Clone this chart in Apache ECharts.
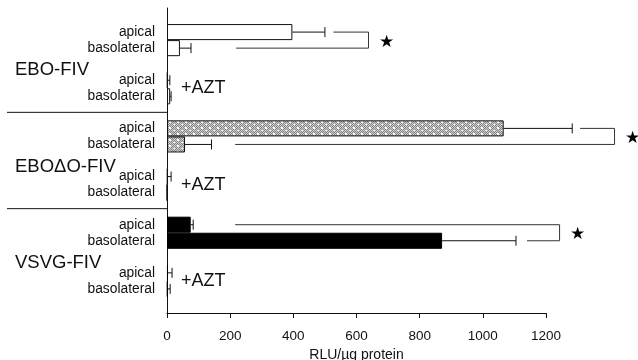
<!DOCTYPE html>
<html>
<head>
<meta charset="utf-8">
<script src="https://cdn.jsdelivr.net/npm/echarts@6/dist/echarts.min.js"></script>
<style>
  html, body { margin: 0; padding: 0; background: #fff; }
  #chart { width: 638px; height: 360px; }
</style>
</head>
<body>
<div id="chart"></div>
<script>
// rows of the category axis, top to bottom (one blank row on top, a blank row closing each group)
const rows = [
  'top',
  'ebo_ap', 'ebo_bl', 'ebo_gap', 'ebo_azt_ap', 'ebo_azt_bl', 'ebo_sep',
  'ebodo_ap', 'ebodo_bl', 'ebodo_gap', 'ebodo_azt_ap', 'ebodo_azt_bl', 'ebodo_sep',
  'vsvg_ap', 'vsvg_bl', 'vsvg_gap', 'vsvg_azt_ap', 'vsvg_azt_bl', 'vsvg_end'
];
const rowLabels = [
  '',
  'apical', 'basolateral', '', 'apical', 'basolateral', '',
  'apical', 'basolateral', '', 'apical', 'basolateral', '',
  'apical', 'basolateral', '', 'apical', 'basolateral', ''
];
const groupLabels = [
  '',
  '', '', 'EBO-FIV', '', '', '',
  '', '', 'EBOΔO-FIV', '', '', '',
  '', '', 'VSVG-FIV', '', '', ''
];

// RLU/µg protein
const eboValues   = ['-', 397, 41, '-', 2, 10, '-', '-', '-', '-', '-', '-', '-', '-', '-', '-', '-', '-', '-'];
const ebodoValues = ['-', '-', '-', '-', '-', '-', '-', 1066, 57, '-', 2, 0, '-', '-', '-', '-', '-', '-', '-'];
const vsvgValues  = ['-', '-', '-', '-', '-', '-', '-', '-', '-', '-', '-', '-', '-', 75, 871, '-', 3, 2, '-'];

// error bars: [row, mean, mean + error]
const errorBars = [
  [1, 397, 500], [2, 41, 76], [4, 2, 9], [5, 10, 13],
  [7, 1066, 1283], [8, 57, 141], [10, 2, 13],
  [13, 75, 83], [14, 871, 1105], [16, 3, 16], [17, 2, 10]
];

// significance brackets: [row A, row B, line start A, line start B, bracket x]
const brackets = [
  [1, 2, 527, 219, 638],
  [7, 8, 1308, 216, 1417],
  [13, 14, 216, 1140, 1243]
];

const aztRows = [4, 10, 16];
const separatorRows = [6, 12];

const xTicks = { min: 0, max: 1200, interval: 200 };

function stipple() {
  const c = document.createElement('canvas');
  c.width = 8; c.height = 6;
  const g = c.getContext('2d');
  g.fillStyle = '#d0d0d0';
  g.fillRect(0, 0, 8, 6);
  g.fillStyle = '#858585';
  for (let y = 0; y < 6; y++) {
    for (let x = 0; x < 8; x++) {
      if ((x + y) % 2 === 0) g.fillRect(x, y, 1, 1);
    }
  }
  g.fillStyle = '#ffffff';
  g.fillRect(1, 1, 2, 2);
  g.fillRect(5, 4, 2, 1);
  return c;
}

const font = '"Liberation Sans", Arial, Helvetica, sans-serif';

const chart = echarts.init(document.getElementById('chart'), null, { renderer: 'canvas' });

const option = {
  animation: false,
  backgroundColor: '#fff',
  grid: { left: 167, right: 92, top: 8, bottom: 47, outerBoundsMode: 'none' },
  xAxis: {
    type: 'value',
    min: xTicks.min,
    max: xTicks.max,
    interval: xTicks.interval,
    name: 'RLU/µg protein',
    nameLocation: 'middle',
    nameGap: 27,
    nameTextStyle: { fontFamily: font, fontSize: 14, color: '#111' },
    axisLine: { show: true, lineStyle: { color: '#111', width: 1 } },
    axisTick: { show: true, length: 5, lineStyle: { color: '#111' } },
    axisLabel: { fontFamily: font, fontSize: 13.5, color: '#111', margin: 16, formatter: (v) => String(v) },
    splitLine: { show: false }
  },
  yAxis: [
    {
      type: 'category',
      inverse: true,
      data: rows,
      axisLine: { show: true, lineStyle: { color: '#111', width: 1 } },
      axisTick: { show: false },
      axisLabel: {
        interval: 0,
        margin: 12,
        fontFamily: font,
        fontSize: 13.8,
        color: '#111',
        formatter: (v, i) => rowLabels[i]
      }
    },
    {
      type: 'category',
      inverse: true,
      position: 'left',
      data: rows,
      axisLine: { show: false },
      axisTick: { show: false },
      axisLabel: {
        interval: 0,
        margin: 152,
        align: 'left',
        verticalAlign: 'top',
        lineHeight: 12,
        fontFamily: font,
        fontSize: 18.5,
        color: '#111',
        formatter: (v, i) => groupLabels[i]
      }
    }
  ],
  series: [
    {
      name: 'EBO-FIV',
      type: 'bar',
      stack: 'rlu',
      barCategoryGap: '0%',
      data: eboValues,
      itemStyle: { color: '#fff', borderColor: '#111', borderWidth: 1 }
    },
    {
      name: 'EBOΔO-FIV',
      type: 'bar',
      stack: 'rlu',
      barCategoryGap: '0%',
      data: ebodoValues,
      itemStyle: { color: { image: stipple(), repeat: 'repeat' }, borderColor: '#111', borderWidth: 1 }
    },
    {
      name: 'VSVG-FIV',
      type: 'bar',
      stack: 'rlu',
      barCategoryGap: '0%',
      data: vsvgValues,
      itemStyle: { color: '#000', borderColor: '#000', borderWidth: 1 }
    },
    {
      name: 'error',
      type: 'custom',
      clip: false,
      data: errorBars,
      renderItem: (params, api) => {
        const a = api.coord([api.value(1), api.value(0)]);
        const b = api.coord([api.value(2), api.value(0)]);
        const h = 5;
        return {
          type: 'group',
          children: [
            { type: 'line', shape: { x1: a[0], y1: a[1], x2: b[0], y2: b[1] }, style: { stroke: '#111', lineWidth: 1 } },
            { type: 'line', shape: { x1: b[0], y1: b[1] - h, x2: b[0], y2: b[1] + h }, style: { stroke: '#111', lineWidth: 1 } }
          ]
        };
      }
    },
    {
      name: 'brackets',
      type: 'custom',
      clip: false,
      data: brackets,
      renderItem: (params, api) => {
        const pA = api.coord([api.value(2), api.value(0)]);
        const qA = api.coord([api.value(4), api.value(0)]);
        const qB = api.coord([api.value(4), api.value(1)]);
        const pB = api.coord([api.value(3), api.value(1)]);
        return {
          type: 'group',
          children: [
            { type: 'polyline', shape: { points: [pA, qA, qB, pB] }, style: { stroke: '#333', lineWidth: 1, fill: null } },
            {
              type: 'text',
              style: {
                text: '★', x: qA[0] + 18, y: (qA[1] + qB[1]) / 2 + 2,
                fontSize: 17, fontFamily: '"DejaVu Sans", sans-serif',
                fill: '#000', align: 'center', verticalAlign: 'middle'
              }
            }
          ]
        };
      }
    },
    {
      name: 'azt',
      type: 'custom',
      clip: false,
      data: aztRows,
      renderItem: (params, api) => {
        const p = api.coord([0, api.value(0)]);
        const slot = api.size([0, 1])[1];
        return {
          type: 'text',
          style: {
            text: '+AZT', x: p[0] + 14, y: p[1] + slot / 2,
            fontSize: 18, fontFamily: font, fill: '#111',
            align: 'left', verticalAlign: 'middle'
          }
        };
      }
    },
    {
      name: 'separators',
      type: 'custom',
      clip: false,
      data: separatorRows,
      renderItem: (params, api) => {
        const p = api.coord([0, api.value(0)]);
        return {
          type: 'line',
          shape: { x1: 7, y1: p[1], x2: p[0], y2: p[1] },
          style: { stroke: '#111', lineWidth: 1 }
        };
      }
    }
  ]
};

chart.setOption(option);
</script>
</body>
</html>
